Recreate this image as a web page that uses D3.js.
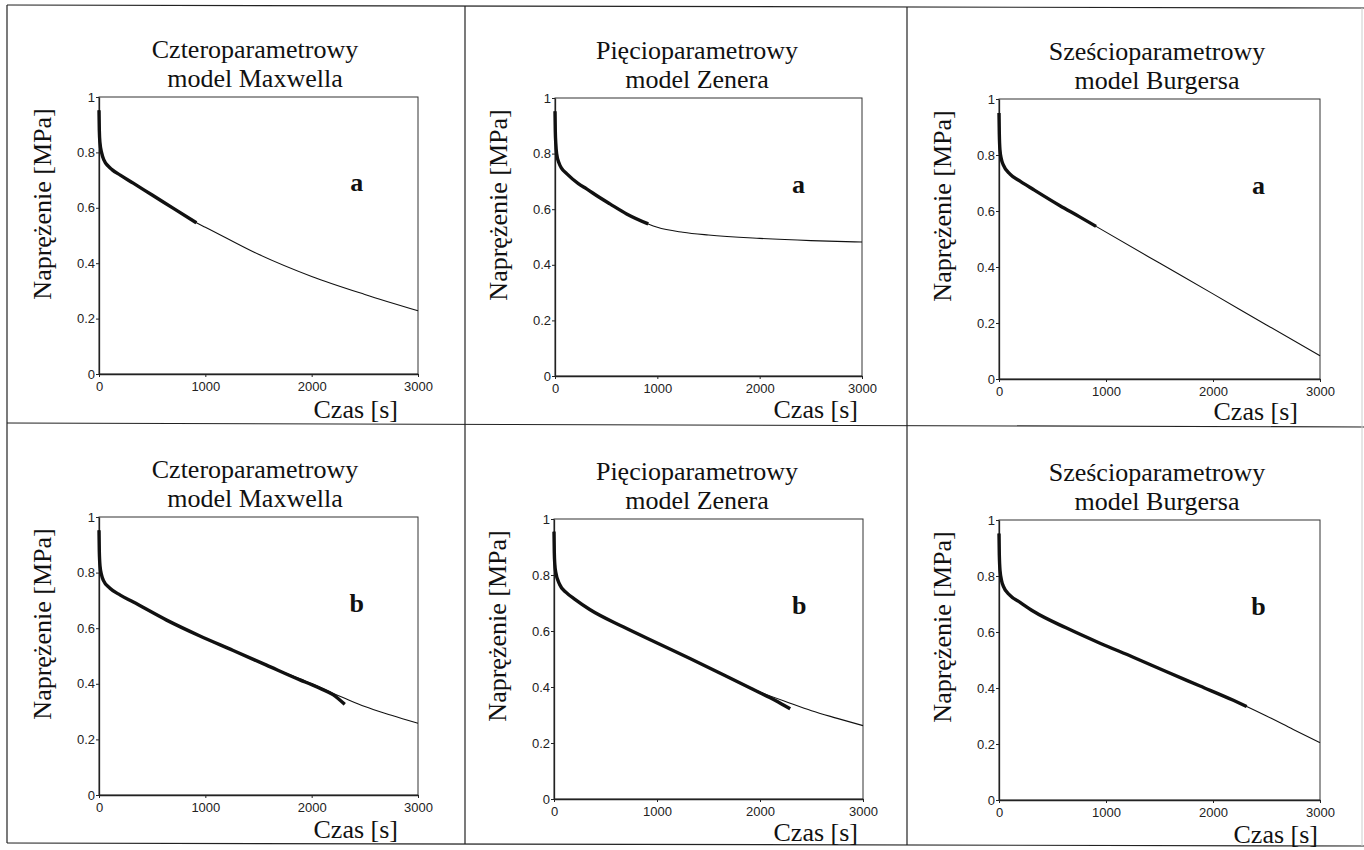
<!DOCTYPE html>
<html>
<head>
<meta charset="utf-8">
<script src="https://cdn.jsdelivr.net/npm/d3@7"></script>
<style>
  body { margin: 0; background: #fff; }
  .serif { font-family: 'Liberation Serif', 'Times New Roman', serif; fill: #111; }
  .tick text { font-family: 'Liberation Sans', Arial, sans-serif; font-size: 13px; fill: #222; }
  .tick line { stroke: #222; }
</style>
</head>
<body>
<script>
// DATA ------------------------
const timeTicks = [0, 1000, 2000, 3000];
const stressTicks = [0, 0.2, 0.4, 0.6, 0.8, 1];
const titleTop = ['Czteroparametrowy', 'Pięcioparametrowy', 'Sześcioparametrowy'];
const titleBottom = ['model Maxwella', 'model Zenera', 'model Burgersa'];
const rowLetters = ['a', 'b'];
const yTitle = 'Naprężenie [MPa]';
const xTitle = 'Czas [s]';

// measured relaxation (thick) and model fit (thin), [time s, stress MPa]
const maxwellA = [[0, 0.952], [3, 0.88], [9, 0.835], [25, 0.798], [47, 0.772], [85, 0.751], [122, 0.738], [200, 0.718], [322, 0.689], [500, 0.646], [700, 0.598], [916, 0.546]];
const maxwellAFit = [[0, 0.952], [9, 0.835], [25, 0.798], [47, 0.772], [85, 0.751], [122, 0.738], [200, 0.718], [322, 0.689], [500, 0.646], [700, 0.598], [916, 0.546], [1000, 0.530], [1500, 0.432], [2000, 0.352], [2500, 0.287], [3000, 0.228]];
const zenerA = [[0, 0.952], [3, 0.88], [8, 0.835], [16, 0.80], [40, 0.765], [65, 0.747], [114, 0.728], [228, 0.692], [309, 0.673], [440, 0.641], [537, 0.619], [700, 0.583], [911, 0.547]];
const zenerAFit = [[0, 0.952], [8, 0.835], [16, 0.80], [40, 0.765], [65, 0.747], [114, 0.728], [228, 0.692], [309, 0.673], [440, 0.641], [537, 0.619], [700, 0.583], [911, 0.547], [1000, 0.535], [1250, 0.517], [1500, 0.507], [2000, 0.495], [2500, 0.487], [3000, 0.482]];
const burgersA = [[0, 0.950], [3, 0.875], [9, 0.818], [22, 0.785], [40, 0.765], [103, 0.732], [200, 0.706], [321, 0.677], [570, 0.619], [750, 0.580], [907, 0.545]];
const burgersAFit = [[0, 0.950], [9, 0.818], [22, 0.785], [40, 0.765], [103, 0.732], [200, 0.706], [321, 0.677], [570, 0.619], [750, 0.580], [907, 0.545], [1500, 0.414], [2000, 0.304], [2500, 0.193], [3000, 0.083]];
const maxwellB = [[0, 0.952], [3, 0.875], [10, 0.822], [25, 0.790], [41, 0.772], [103, 0.744], [200, 0.719], [323, 0.694], [636, 0.629], [949, 0.572], [1262, 0.520], [1575, 0.467], [1889, 0.414], [2000, 0.397], [2100, 0.380], [2200, 0.361], [2311, 0.326]];
const maxwellBFit = [[0, 0.952], [10, 0.822], [25, 0.790], [41, 0.772], [103, 0.744], [200, 0.719], [323, 0.694], [636, 0.629], [949, 0.572], [1262, 0.520], [1575, 0.467], [2000, 0.400], [2300, 0.350], [2500, 0.318], [2750, 0.287], [3000, 0.258]];
const zenerB = [[0, 0.955], [3, 0.88], [8, 0.838], [16, 0.812], [55, 0.766], [120, 0.737], [200, 0.714], [347, 0.677], [671, 0.615], [996, 0.558], [1320, 0.502], [1644, 0.444], [1969, 0.385], [2150, 0.352], [2293, 0.322]];
const zenerBFit = [[0, 0.955], [8, 0.838], [16, 0.812], [55, 0.766], [120, 0.737], [200, 0.714], [347, 0.677], [671, 0.615], [996, 0.558], [1320, 0.502], [1644, 0.444], [1969, 0.387], [2293, 0.342], [2500, 0.315], [2750, 0.288], [3000, 0.262]];
const burgersB = [[0, 0.952], [3, 0.875], [10, 0.818], [25, 0.782], [40, 0.764], [103, 0.731], [200, 0.705], [321, 0.674], [632, 0.614], [944, 0.560], [1255, 0.510], [1567, 0.458], [1879, 0.407], [2190, 0.356], [2315, 0.334]];
const burgersBFit = [[0, 0.952], [10, 0.818], [25, 0.782], [40, 0.764], [103, 0.731], [200, 0.705], [321, 0.674], [632, 0.614], [944, 0.560], [1255, 0.510], [1567, 0.458], [1879, 0.407], [2190, 0.356], [2315, 0.334], [2500, 0.300], [2750, 0.252], [3000, 0.205]];

const measured = [[maxwellA, zenerA, burgersA], [maxwellB, zenerB, burgersB]];
const fitted = [[maxwellAFit, zenerAFit, burgersAFit], [maxwellBFit, zenerBFit, burgersBFit]];

// LAYOUT ----------------------
const W = 1364, H = 850;
const plotBoxes = [
  [{ x0: 99, x1: 418, y0: 97, y1: 374 }, { x0: 555, x1: 862, y0: 98, y1: 376 }, { x0: 999, x1: 1320, y0: 99, y1: 379 }],
  [{ x0: 99, x1: 418, y0: 517, y1: 795 }, { x0: 554, x1: 863, y0: 519, y1: 799 }, { x0: 999, x1: 1320, y0: 520, y1: 800 }]
];
const titleX = [255, 697, 1157];
const xTitleRight = [[398, 858, 1298], [398, 858, 1318]];
const xTitleBase = [[418, 418, 420], [838, 841, 843]];

const svg = d3.select('body').append('svg').attr('width', W).attr('height', H);
svg.append('rect').attr('width', W).attr('height', H).attr('fill', '#fff');

// table frame
const frame = svg.append('g').attr('stroke', '#222').attr('stroke-width', 1.2);
[[7, 5, 1364, 8], [7, 423, 1364, 427], [7, 843, 1364, 846],
 [7, 5, 7, 843], [465, 6, 465, 844], [907, 7, 907, 845]].forEach(([a, b, c, d]) => {
  frame.append('line').attr('x1', a).attr('y1', b).attr('x2', c).attr('y2', d);
});
svg.append('line').attr('x1', 1362).attr('y1', 8).attr('x2', 1362).attr('y2', 846)
  .attr('stroke', '#ccc').attr('stroke-width', 1);

const line = d3.line().x((d) => d[0]).y((d) => d[1]).curve(d3.curveMonotoneX);

rowLetters.forEach((letter, r) => {
  titleTop.forEach((top, c) => {
    const b = plotBoxes[r][c];
    const w = b.x1 - b.x0, h = b.y1 - b.y0;
    const x = d3.scaleLinear().domain([0, 3000]).range([0, w]);
    const y = d3.scaleLinear().domain([0, 1]).range([h, 0]);

    // titles
    svg.append('text').attr('class', 'serif').attr('x', titleX[c]).attr('y', b.y0 - 39)
      .attr('text-anchor', 'middle').style('font-size', '26px').text(top);
    svg.append('text').attr('class', 'serif').attr('x', titleX[c]).attr('y', b.y0 - 10)
      .attr('text-anchor', 'middle').style('font-size', '26px').text(titleBottom[c]);

    svg.append('text').attr('class', 'serif')
      .attr('transform', `translate(${b.x0 - 48}, ${b.y0 + 107}) rotate(-90)`)
      .attr('text-anchor', 'middle').style('font-size', '26px').text(yTitle);

    svg.append('text').attr('class', 'serif')
      .attr('x', xTitleRight[r][c]).attr('y', xTitleBase[r][c])
      .attr('text-anchor', 'end').style('font-size', '26px').text(xTitle);

    const g = svg.append('g').attr('transform', `translate(${b.x0}, ${b.y0})`);

    g.append('rect').attr('width', w).attr('height', h)
      .attr('fill', 'none').attr('stroke', '#333').attr('stroke-width', 1);

    const yAxis = g.append('g')
      .call(d3.axisLeft(y).tickValues(stressTicks).tickSize(3).tickSizeOuter(0).tickPadding(1)
        .tickFormat(d3.format('~g')));
    const xAxis = g.append('g').attr('transform', `translate(0, ${h})`)
      .call(d3.axisBottom(x).tickValues(timeTicks).tickSize(3).tickSizeOuter(0).tickPadding(5)
        .tickFormat(d3.format('d')));
    yAxis.select('.domain').attr('stroke', '#222').attr('stroke-width', 1.3);
    xAxis.select('.domain').attr('stroke', '#222').attr('stroke-width', 1.3);

    // model fit
    g.append('path')
      .attr('d', line(fitted[r][c].map((d) => [x(d[0]), y(d[1])])))
      .attr('fill', 'none').attr('stroke', '#111').attr('stroke-width', 1.1);

    // measured
    g.append('path')
      .attr('d', line(measured[r][c].map((d) => [x(d[0]), y(d[1])])))
      .attr('fill', 'none').attr('stroke', '#111').attr('stroke-width', 3.4)
      .attr('stroke-linecap', 'butt').attr('stroke-linejoin', 'round');

    g.append('text').attr('class', 'serif')
      .attr('x', x(c === 1 ? 2380 : 2425)).attr('y', y(0.66))
      .attr('text-anchor', 'middle').style('font-size', '26px').style('font-weight', 'bold')
      .text(letter);
  });
});
</script>
</body>
</html>
